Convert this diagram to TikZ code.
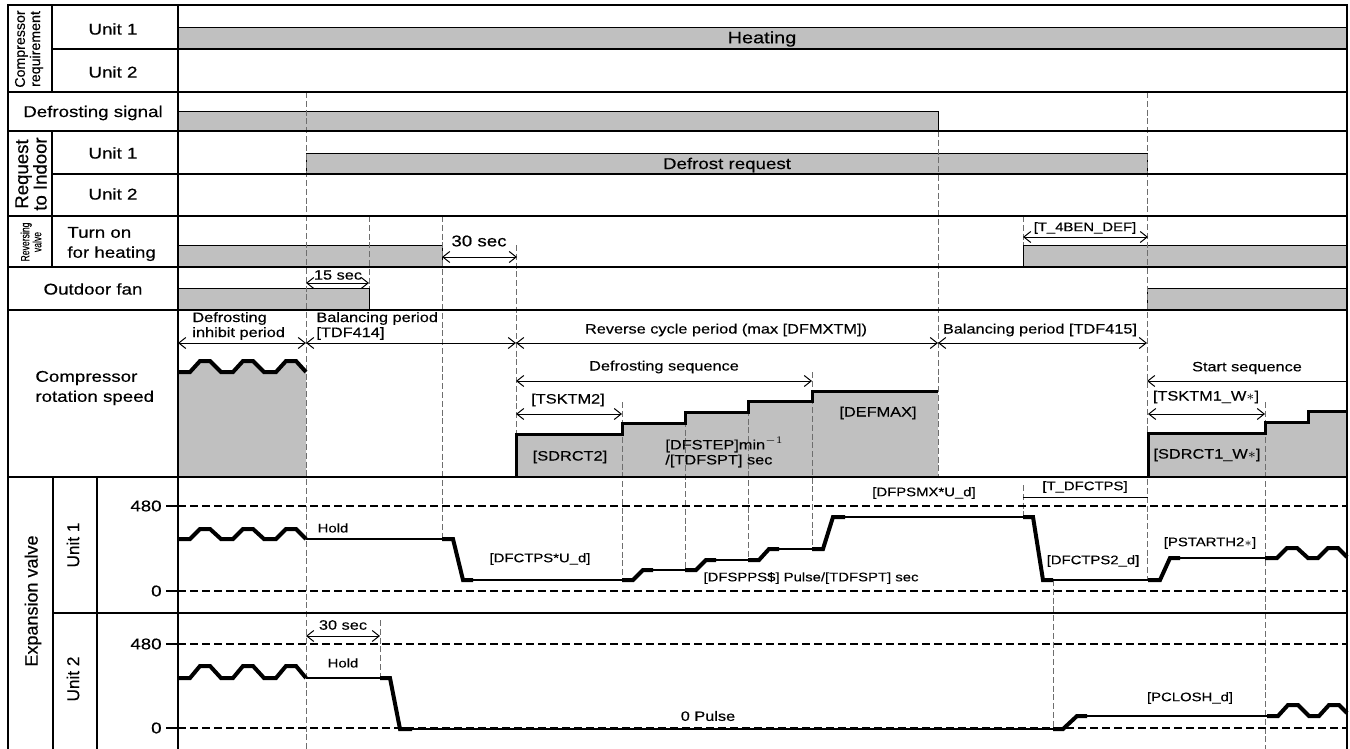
\documentclass[tikz,border=0pt]{standalone}
\usepackage{fontspec}
\setmainfont{Liberation Sans}[FakeStretch=1.2,FakeBold=0.3]
\newfontfamily\rotfont{Liberation Sans}[FakeBold=0.3]
\usetikzlibrary{arrows.meta}
\definecolor{barfill}{HTML}{C0C0C0}
\definecolor{guidegray}{HTML}{6E6E6E}
\begin{document}
\begin{tikzpicture}[x=0.5pt,y=-0.5pt,every node/.style={inner sep=0pt},
  txtL/.style={font=\fontsize{7.8}{10}\selectfont},
  txtM/.style={font=\fontsize{6.8}{7.5}\selectfont},
  txtS/.style={font=\fontsize{6.2}{7.4}\selectfont},
  sidelabel/.style={rotate=90,align=center},
  grid/.style={line width=1pt},
  bar/.style={fill=barfill,draw=black,line width=0.5pt},
  guide/.style={draw=guidegray,line width=0.45pt,dash pattern=on 3pt off 1.4pt},
  level/.style={draw=black,line width=0.55pt,dash pattern=on 4pt off 2pt},
  sig/.style={line width=2pt},
  csig/.style={line width=1.5pt},
  hold/.style={line width=0.9pt},
  dim/.style={line width=0.5pt,{Straight Barb[length=3.5pt,width=5.5pt]}-{Straight Barb[length=3.5pt,width=5.5pt]}},
  >={Straight Barb[length=3.5pt,width=5.5pt]}]
\useasboundingbox (0,0) rectangle (1350,749);
% bars of the on/off rows
\draw[bar] (178,28) rectangle (1347,49);
\draw[bar] (178,112) rectangle (938,131);
\draw[bar] (306,154) rectangle (1147,174);
\draw[bar] (178,245) rectangle (442,267);
\draw[bar] (1023,245) rectangle (1347,267);
\draw[bar] (178,288) rectangle (369,310);
\draw[bar] (1147,288) rectangle (1347,310);
% compressor speed areas
\fill[barfill] (178,477)--(178,372)--(190,372)--(200,361)--(210,361)--(221,372)--(233,372)--(243,361)--(253,361)--(264,372)--(276,372)--(286,361)--(296,361)--(306,372)--(306,477)--cycle;
\fill[barfill] (516,477)--(516,434)--(622,434)--(622,423)--(685,423)--(685,412)--(748,412)--(748,401)--(812,401)--(812,391)--(938,391)--(938,477)--cycle;
\fill[barfill] (1148,477)--(1148,433)--(1265,433)--(1265,422)--(1308,422)--(1308,411)--(1347,411)--(1347,477)--cycle;
% time marks
\draw[guide] (306,92)--(306,749);
\draw[guide] (369,216)--(369,288);
\draw[guide] (380,620)--(380,678);
\draw[guide] (442,216)--(442,539);
\draw[guide] (516,245)--(516,434);
\draw[guide] (622,402)--(622,580);
\draw[guide] (685,412)--(685,570);
\draw[guide] (748,401)--(748,560);
\draw[guide] (812,372)--(812,549);
\draw[guide] (938,131)--(938,477);
\draw[guide] (1023,216)--(1023,245);
\draw[guide] (1023,485)--(1023,517);
\draw[guide] (1053,580)--(1053,729);
\draw[guide] (1147,92)--(1147,580);
\draw[guide] (1265,402)--(1265,749);
% pulse levels
\draw[level] (178,506)--(1347,506); \draw[level] (178,591)--(1347,591);
\draw[level] (178,644)--(1347,644); \draw[level] (178,728)--(1347,728);
\draw[line width=0.8pt] (166,506)--(178,506); \draw[line width=0.8pt] (166,591)--(178,591);
\draw[line width=0.8pt] (166,644)--(178,644); \draw[line width=0.8pt] (166,728)--(178,728);
\node[txtL,anchor=east] (p480a) at (162,506) {480};
\node[txtL,anchor=east] (p0a) at (162,591) {0};
\node[txtL,anchor=east] (p480b) at (162,644) {480};
\node[txtL,anchor=east] (p0b) at (162,728) {0};
% compressor speed
\draw[sig] (178,372)--(190,372)--(200,361)--(210,361)--(221,372)--(233,372)--(243,361)--(253,361)--(264,372)--(276,372)--(286,361)--(296,361)--(306,372);
\draw[csig] (516,477)--(516,434)--(622,434)--(622,423)--(685,423)--(685,412)--(748,412)--(748,401)--(812,401)--(812,391)--(938,391);
\draw[csig] (1148,477)--(1148,433)--(1265,433)--(1265,422)--(1308,422)--(1308,411)--(1347,411);
% expansion valve unit 1
\draw[sig] (178,539)--(190,539)--(200,529)--(210,529)--(221,539)--(233,539)--(243,529)--(253,529)--(264,539)--(276,539)--(286,529)--(296,529)--(306,539);
\draw[hold] (306,539)--(442,539);
\draw[sig] (442,539)--(453,539)--(463,580)--(473,580);
\draw[hold] (473,580)--(622,580);
\draw[sig] (622,580)--(633,580)--(643,570)--(653,570);
\draw[hold] (653,570)--(685,570);
\draw[sig] (685,570)--(696,570)--(706,560)--(716,560);
\draw[hold] (716,560)--(748,560);
\draw[sig] (748,560)--(759,560)--(769,549)--(779,549);
\draw[hold] (779,549)--(812,549);
\draw[sig] (812,549)--(823,549)--(833,517)--(845,517);
\draw[hold] (845,517)--(1023,517);
\draw[sig] (1023,517)--(1033,517)--(1043,580)--(1053,580);
\draw[hold] (1053,580)--(1148,580);
\draw[sig] (1148,580)--(1160,580)--(1170,558)--(1180,558);
\draw[hold] (1180,558)--(1265,558);
\draw[sig] (1265,558)--(1277,558)--(1287,548)--(1297,548)--(1308,558)--(1318,558)--(1328,548)--(1338,548)--(1347,557);
% expansion valve unit 2
\draw[sig] (178,678)--(190,678)--(200,666)--(210,666)--(221,678)--(233,678)--(243,666)--(253,666)--(264,678)--(276,678)--(286,666)--(296,666)--(306,678);
\draw[hold] (306,678)--(380,678);
\draw[sig] (380,678)--(390,678)--(400,729)--(412,729);
\draw[hold] (412,729)--(1053,729);
\draw[sig] (1053,729)--(1063,729)--(1077,716)--(1087,716);
\draw[hold] (1087,716)--(1267,716);
\draw[sig] (1267,716)--(1278,716)--(1288,705)--(1298,705)--(1309,716)--(1319,716)--(1329,705)--(1339,705)--(1347,713);
% table lines
\draw[grid] (8,749)--(8,5)--(1347,5)--(1347,749);
\draw[line width=1.4pt] (178,5)--(178,749);
\draw[grid] (52,49)--(1347,49);
\draw[line width=1.3pt] (8,92)--(1347,92);
\draw[grid] (8,131)--(1347,131);
\draw[grid] (52,174)--(1347,174);
\draw[line width=1.3pt] (8,216)--(1347,216);
\draw[grid] (8,267)--(1347,267);
\draw[grid] (8,310)--(1347,310);
\draw[line width=1.3pt] (8,477)--(1347,477);
\draw[grid] (53,613)--(1347,613);
\draw[grid] (52,5)--(52,92); \draw[grid] (52,131)--(52,267);
\draw[grid] (53,477)--(53,749); \draw[grid] (97,477)--(97,749);
% row titles
\node[sidelabel,font=\rotfont\fontsize{7.1}{7.6}\selectfont] (cmpreq) at (29,49) {Compressor\\requirement};
\node[txtL] (cu1) at (113,29) {Unit 1};
\node[txtL] (cu2) at (113,72) {Unit 2};
\node[txtL] (defsig) at (93,113) {Defrosting signal};
\node[sidelabel,font=\rotfont\fontsize{9.3}{9.2}\selectfont] (reqind) at (31,174) {Request\\to Indoor};
\node[txtL] (ru1) at (113,153) {Unit 1};
\node[txtL] (ru2) at (113,194) {Unit 2};
\node[sidelabel,font=\rotfont\fontsize{6}{6}\selectfont] (revv) at (31,242) {\scalebox{0.72}[1]{Reversing}\\\scalebox{0.72}[1]{valve}};
\node[txtL,align=left,anchor=west] (turnon) at (67,244) {Turn on\\for heating};
\node[txtL] (odfan) at (93,289) {Outdoor fan};
\node[txtL,align=left,anchor=west] (crspeed) at (35,388) {Compressor\\rotation speed};
\node[sidelabel,font=\rotfont\fontsize{9}{9}\selectfont] (expv) at (33,601) {Expansion valve};
\node[sidelabel,font=\rotfont\fontsize{8.6}{9}\selectfont] (eu1) at (73,545) {Unit 1};
\node[sidelabel,font=\rotfont\fontsize{8.6}{9}\selectfont] (eu2) at (73,679) {Unit 2};
% on/off row texts
\node[txtL,font=\fontsize{8.3}{10}\selectfont] (heating) at (762,39) {Heating};
\node[txtL] (dreq) at (727,165) {Defrost request};
\node[txtL] (sec30a) at (479,241) {30 sec};
\draw[dim] (442,257)--(517,257);
\node[txtS] (t4ben) at (1085,228) {[T\_4BEN\_DEF]};
\draw[dim] (1023,237)--(1148,237);
\node[txtM] (sec15) at (338,275) {15 sec};
\draw[dim] (306,283)--(369,283);
% compressor texts
\node[txtM,align=left,anchor=west] (inhibit) at (192,326) {Defrosting\\inhibit period};
\node[txtM,align=left,anchor=west] (bal414) at (316,326) {Balancing period\\{[TDF414]}};
\node[txtM] (revcyc) at (726,330) {Reverse cycle period (max [DFMXTM])};
\node[txtM] (bal415) at (1040,330) {Balancing period [TDF415]};
\draw[dim] (178,343)--(306,343); \draw[dim] (306,343)--(516,343);
\draw[dim] (516,343)--(938,343); \draw[dim] (938,343)--(1147,343);
\node[txtM] (dfseq) at (664,367) {Defrosting sequence};
\draw[dim] (516,381)--(812,381);
\node[txtM] (tsktm2) at (568,400) {[TSKTM2]};
\draw[dim] (516,414)--(622,414);
\node[txtM] (sdrct2) at (570,457) {[SDRCT2]};
\node[txtM,align=left,anchor=west] (dfstep) at (665,452) {[DFSTEP]min$^{-1}$\\{/[TDFSPT] sec}};
\node[txtM] (defmax) at (878,413) {[DEFMAX]};
\node[txtM] (stseq) at (1247,368) {Start sequence};
\draw[<-,line width=0.5pt] (1147,381)--(1347,381);
\node[txtM] (tsktm1) at (1206,397) {[TSKTM1\_W$\ast$]};
\draw[dim] (1148,414)--(1265,414);
\node[txtM] (sdrct1) at (1207,455) {[SDRCT1\_W$\ast$]};
% expansion valve texts
\node[txtS] (hold1) at (333,528) {Hold};
\node[txtS] (dfctps) at (540,559) {[DFCTPS*U\_d]};
\node[txtS] (dfspps) at (811,578) {[DFSPPS\$] Pulse/[TDFSPT] sec};
\node[txtS] (dfpsmx) at (924,493) {[DFPSMX*U\_d]};
\node[txtS] (tdfctps) at (1085,487) {[T\_DFCTPS]};
\draw[line width=0.5pt] (1023,497)--(1148,497);
\node[txtS] (dfctps2) at (1093,561) {[DFCTPS2\_d]};
\node[txtS] (pstarth) at (1210,543) {[PSTARTH2$\ast$]};
\node[txtM] (sec30b) at (343,625) {30 sec};
\draw[dim] (306,636)--(380,636);
\node[txtS] (hold2) at (343,663) {Hold};
\node[txtM] (zpulse) at (708,716) {0 Pulse};
\node[txtS] (pclosh) at (1190,698) {[PCLOSH\_d]};
\end{tikzpicture}
\end{document}
